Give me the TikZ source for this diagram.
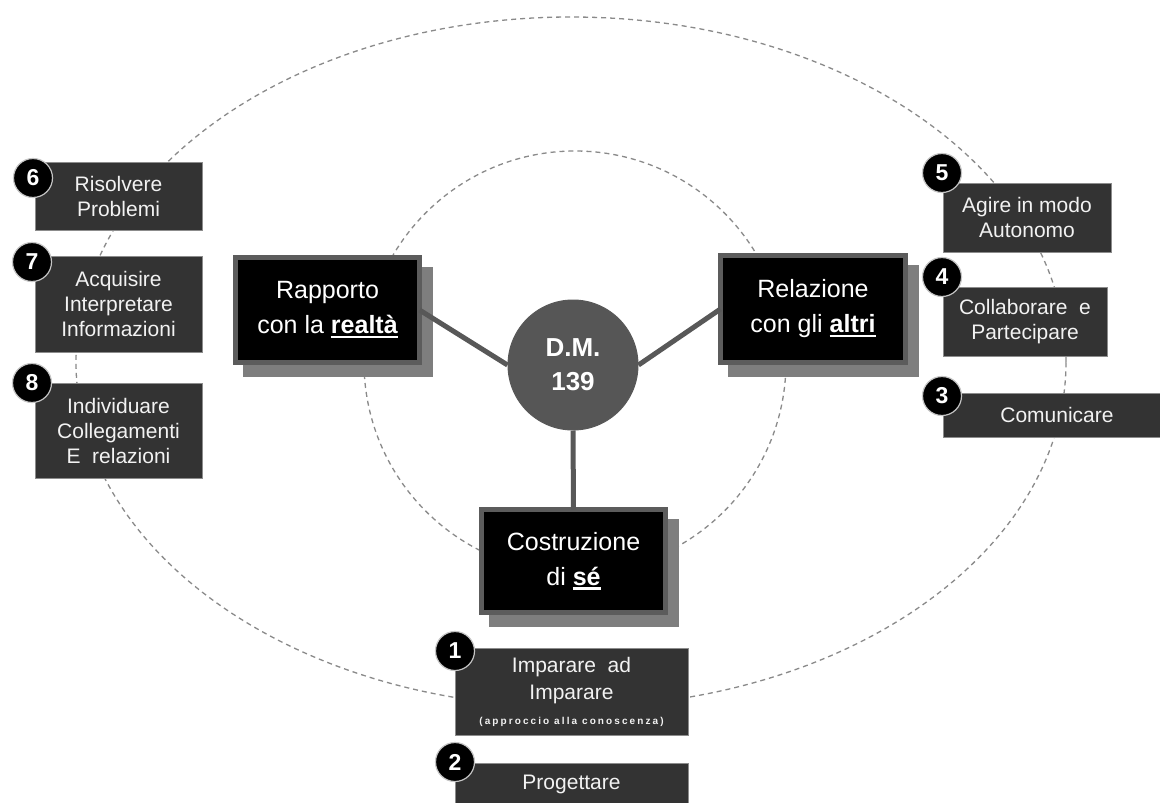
\documentclass[tikz,border=0pt]{standalone}
\usepackage{fontspec}
\setmainfont{Liberation Sans}
\definecolor{ringgray}{HTML}{8A8A8A}
\definecolor{boxfill}{HTML}{333333}
\definecolor{boxrim}{HTML}{8C8C8C}
\definecolor{mainrim}{HTML}{5C5C5C}
\definecolor{shadowc}{HTML}{7E7E7E}
\definecolor{dmfill}{HTML}{565656}
\definecolor{linkc}{HTML}{585858}
\definecolor{txt}{HTML}{F2F2F2}
\newsavebox\ulbox
\newcommand\bul[1]{\sbox\ulbox{\bfseries #1}\rlap{\rule[-4.5pt]{\wd\ulbox}{2.4pt}}\usebox\ulbox}
\tikzset{
  mainbox/.style={fill=black, draw=mainrim, line width=5pt, text=white,
    font=\fontsize{25}{35}\selectfont, align=center, inner sep=0pt, outer sep=0pt},
  smallbox/.style={fill=boxfill, draw=boxrim, line width=0.8pt, text=txt,
    font=\fontsize{21}{25}\selectfont, align=center, inner sep=0pt},
  numc/.style={circle, fill=black, draw=boxrim!50!white, line width=1.2pt,
    minimum size=39pt, inner sep=0pt, text=white, font=\bfseries\fontsize{23}{23}\selectfont},
  link/.style={draw=linkc, line width=5pt},
  ring/.style={draw=ringgray, line width=1.3pt, dash pattern=on 5pt off 4pt},
  shade/.style={fill=shadowc}
}
\begin{document}
\begin{tikzpicture}[x=1pt,y=-1pt]
\useasboundingbox (0,0) rectangle (1160,803);
\clip (0,0) rectangle (1160,803);
\fill[white] (0,0) rectangle (1160,803);
% dashed rings
\draw[ring] (571,362) ellipse [x radius=495pt, y radius=345pt];
\draw[ring] (575,362) circle [radius=211pt];
% shadows of the main boxes
\fill[shade] (243,267) rectangle (433,377);
\fill[shade] (728,265) rectangle (919,377);
\fill[shade] (489,519) rectangle (679,627);
% main boxes
\node[mainbox, minimum width=184pt, minimum height=105pt] (R) at (327.5,310) {Rapporto\\con la \bul{realtà}};
\node[mainbox, minimum width=185pt, minimum height=107pt] (L) at (813,309) {Relazione\\con gli \bul{altri}};
\node[mainbox, minimum width=184pt, minimum height=103pt] (C) at (573.5,561) {Costruzione\\di \bul{sé}};
% centre
\node[circle, fill=dmfill, draw=linkc, line width=1pt, minimum size=130pt, inner sep=0pt,
  text=white, font=\bfseries\fontsize{26}{34}\selectfont, align=center] (DM) at (573,365) {D.M.\\139};
\draw[link] (R.east) -- (DM.west);
\draw[link] (DM.east) -- (L.west);
\draw[link] (DM.south) -- (C.north);
% competence boxes
\node[smallbox, minimum width=167pt, minimum height=68pt] (b6) at (118.5,196) {Risolvere\\Problemi};
\node[smallbox, minimum width=167pt, minimum height=96pt] (b7) at (118.5,304) {Acquisire\\Interpretare\\Informazioni};
\node[smallbox, minimum width=167pt, minimum height=95pt] (b8) at (118.5,430.5) {Individuare\\Collegamenti\\E\ \ relazioni};
\node[smallbox, minimum width=168pt, minimum height=69pt] (b5) at (1027,217.5) {Agire in modo\\Autonomo};
\node[smallbox, minimum width=164pt, minimum height=69pt] (b4) at (1025,321.5) {Collaborare\ \ e\\Partecipare};
\node[smallbox, minimum width=228pt, minimum height=44pt] (b3) at (1057,415) {Comunicare};
\node[smallbox, minimum width=233pt, minimum height=87pt, font=\fontsize{21}{27}\selectfont] (b1) at (571.5,691.5)
  {Imparare\ \ ad\\Imparare\\[-2pt]{\fontsize{10}{10}\selectfont\bfseries\addfontfeatures{LetterSpace=21}(approccio alla conoscenza)}};
\node[smallbox, minimum width=233pt, minimum height=42pt] (b2) at (571.5,784) {Progettare};
% number badges
\node[numc] (n6) at (33,178) {6};
\node[numc] (n7) at (32,262) {7};
\node[numc] (n8) at (32,383) {8};
\node[numc] (n5) at (942,173) {5};
\node[numc] (n4) at (942,277) {4};
\node[numc] (n3) at (942,396) {3};
\node[numc] (n1) at (455,651) {1};
\node[numc] (n2) at (455,762) {2};
\end{tikzpicture}
\end{document}
